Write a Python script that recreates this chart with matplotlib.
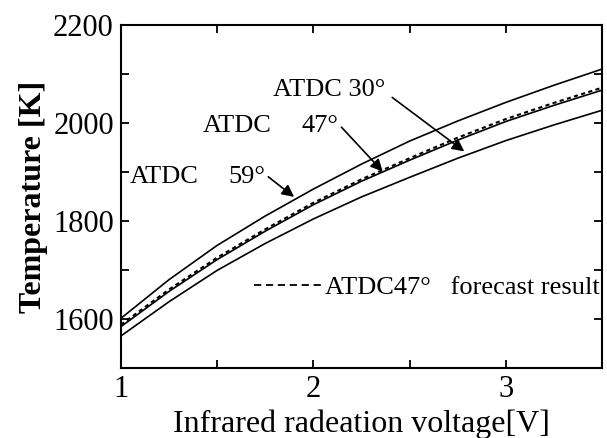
import matplotlib
matplotlib.use("Agg")
import matplotlib.pyplot as plt
from matplotlib.lines import Line2D
from matplotlib.ticker import FixedLocator, FixedFormatter

# Infrared radiation voltage [V]
voltage = [1.0, 1.25, 1.5, 1.75, 2.0, 2.25, 2.5, 2.75, 3.0, 3.25, 3.5]
# Temperature [K]
temp_59 = [1601, 1680, 1750, 1810, 1865, 1916, 1963, 2004, 2042, 2077, 2110]
temp_47 = [1584, 1656, 1721, 1779, 1833, 1881, 1924, 1965, 2003, 2036, 2067]
temp_30 = [1565, 1635, 1699, 1754, 1804, 1849, 1889, 1928, 1964, 1996, 2026]
forecast_47 = [1588, 1660, 1725, 1783, 1837, 1885, 1928, 1970, 2008, 2041, 2072]

x_ticks = [1, 1.5, 2, 2.5, 3, 3.5]
x_labels = ["1", "", "2", "", "3", ""]
y_ticks = [1500, 1600, 1700, 1800, 1900, 2000, 2100, 2200]
y_labels = ["", "1600", "", "1800", "", "2000", "", "2200"]

plt.rcParams["font.family"] = ["Liberation Serif", "DejaVu Serif"]

fig = plt.figure(figsize=(6.07, 4.38), dpi=100)
ax = fig.add_axes([0.199, 0.160, 0.793, 0.783])

lw = 1.2
ax.plot(voltage, temp_59, color="black", lw=lw)
ax.plot(voltage, temp_47, color="black", lw=lw)
ax.plot(voltage, temp_30, color="black", lw=lw)
ax.plot(voltage, forecast_47, color="black", lw=1.5, ls=(0, (2, 1.6)))

ax.set_xlim(1, 3.5)
ax.set_ylim(1500, 2200)
ax.xaxis.set_major_locator(FixedLocator(x_ticks))
ax.xaxis.set_major_formatter(FixedFormatter(x_labels))
ax.yaxis.set_major_locator(FixedLocator(y_ticks))
ax.yaxis.set_major_formatter(FixedFormatter(y_labels))
ax.tick_params(direction="in", length=6, width=1.3, labelsize=22,
               top=True, right=True, pad=5)
for s in ax.spines.values():
    s.set_linewidth(1.5)

ax.set_xlabel("Infrared radeation voltage[V]", fontsize=23, labelpad=4)
ax.set_ylabel("Temperature [K]", fontsize=23, fontweight="bold", labelpad=4)

arrow = dict(arrowstyle="-|>", color="black", lw=1.2, mutation_scale=18,
             shrinkA=0, shrinkB=0)
ax.text(1.79, 2067, "ATDC 30°", fontsize=19, va="center", ha="left")
ax.annotate("", xy=(2.784, 1942), xytext=(2.41, 2052), arrowprops=arrow)
ax.text(1.425, 1993, "ATDC", fontsize=19, va="center", ha="left")
ax.annotate("47°", xy=(2.36, 1901), xytext=(1.94, 1993),
            fontsize=19, va="center", ha="left",
            arrowprops=dict(arrow, relpos=(1, 0.6)))
ax.text(1.045, 1890, "ATDC", fontsize=19, va="center", ha="left")
ax.annotate("59°", xy=(1.90, 1849), xytext=(1.56, 1890),
            fontsize=19, va="center", ha="left",
            arrowprops=dict(arrow, relpos=(1, 0.6)))

handle = Line2D([], [], color="black", lw=1.3, ls=(0, (4, 2.6)))
ax.legend([handle], ["ATDC47°   forecast result"], loc="center left",
          bbox_to_anchor=(0.255, 0.235), frameon=False, fontsize=19,
          handlelength=2.6, handletextpad=0.1, borderaxespad=0)

fig.savefig("out.png", dpi=100)
